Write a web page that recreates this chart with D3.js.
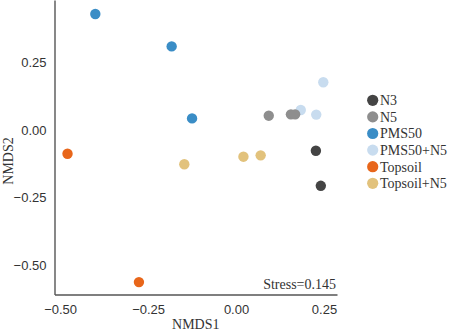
<!DOCTYPE html>
<html><head><meta charset="utf-8">
<script src="https://cdn.jsdelivr.net/npm/d3@7"></script>
<style>body{margin:0;background:#fff}svg{display:block}</style>
</head><body>
<svg id="c" width="456" height="331"></svg>
<script>
const groups = ["N3","N5","PMS50","PMS50+N5","Topsoil","Topsoil+N5"];
const colors = ["#444444","#8e8e8e","#3a8dc6","#c8dcef","#e8661a","#e2c27c"];
const drawOrder = ["PMS50+N5","N3","N5","PMS50","Topsoil","Topsoil+N5"];
const pointsN3 = [[0.227,-0.077],[0.241,-0.207]];
const pointsN5 = [[0.093,0.053],[0.156,0.058],[0.168,0.058]];
const pointsPMS50 = [[-0.400,0.430],[-0.183,0.310],[-0.125,0.043]];
const pointsPMS50N5 = [[0.248,0.177],[0.184,0.074],[0.228,0.057]];
const pointsTopsoil = [[-0.479,-0.088],[-0.276,-0.564]];
const pointsTopsoilN5 = [[-0.147,-0.127],[0.021,-0.099],[0.070,-0.094]];
const xTicks = [-0.50,-0.25,0.00,0.25];
const yTicks = [0.25,0.00,-0.25,-0.50];
const stressLabel = "Stress=0.145";

const pointsByGroup = {"N3":pointsN3,"N5":pointsN5,"PMS50":pointsPMS50,"PMS50+N5":pointsPMS50N5,"Topsoil":pointsTopsoil,"Topsoil+N5":pointsTopsoilN5};
const color = d3.scaleOrdinal().domain(groups).range(colors);

const svg = d3.select("#c");
const L = 54.5, R = 337, T = 0, B = 294.5;
const x = d3.scaleLinear().domain([-0.516,0.287]).range([L,R]);
const y = d3.scaleLinear().domain([-0.610,0.482]).range([B,T]);

// points
drawOrder.forEach(g=>{
  svg.append("g").selectAll("circle").data(pointsByGroup[g]).join("circle")
    .attr("cx",d=>x(d[0])).attr("cy",d=>y(d[1])).attr("r",5.2)
    .attr("fill",color(g));
});

// axes
const xAxis = d3.axisBottom(x).tickValues(xTicks).tickFormat(d3.format(".2f")).tickSize(0).tickPadding(8);
const yAxis = d3.axisLeft(y).tickValues(yTicks).tickFormat(d3.format(".2f")).tickSize(0).tickPadding(8);
const gx = svg.append("g").attr("transform",`translate(0,${B})`).call(xAxis);
const gy = svg.append("g").attr("transform",`translate(${L},0)`).call(yAxis);
[gx,gy].forEach(g=>{
  g.select(".domain").attr("stroke","#555").attr("stroke-width",1.4);
  g.selectAll("text").attr("font-family","Liberation Sans, Arial, sans-serif").attr("font-size",13).attr("fill","#333");
});
gx.selectAll("text").attr("dy","0.9em");

// axis titles
svg.append("text").attr("x",(L+R)/2).attr("y",329).attr("text-anchor","middle")
  .attr("font-family","Liberation Serif, Times New Roman, serif").attr("font-size",14).attr("fill","#333").text("NMDS1");
svg.append("text").attr("transform",`translate(13,161) rotate(-90)`).attr("text-anchor","middle")
  .attr("font-family","Liberation Serif, Times New Roman, serif").attr("font-size",14).attr("fill","#333").text("NMDS2");

// stress
svg.append("text").attr("x",336).attr("y",289).attr("text-anchor","end")
  .attr("font-family","Liberation Serif, Times New Roman, serif").attr("font-size",14).attr("fill","#333").text(stressLabel);

// legend
const leg = svg.append("g");
groups.forEach((g,i)=>{
  const yy = 100.3 + i*16.6;
  leg.append("circle").attr("cx",372.7).attr("cy",yy).attr("r",5.6).attr("fill",color(g));
  leg.append("text").attr("x",380).attr("y",yy).attr("dy","0.35em")
    .attr("font-family","Liberation Serif, Times New Roman, serif").attr("font-size",14).attr("fill","#333").text(g);
});
</script>
</body></html>
